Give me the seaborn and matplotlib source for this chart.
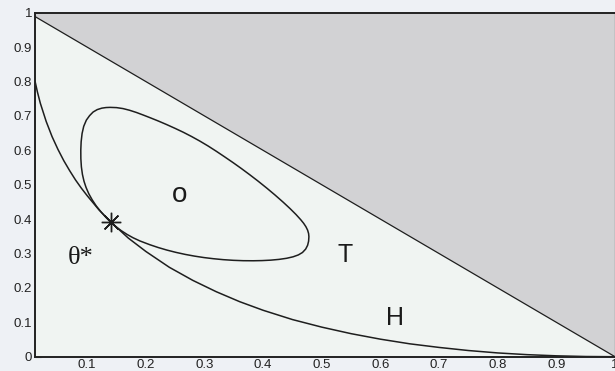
import seaborn as sns
import numpy as np
import pandas as pd
import matplotlib
matplotlib.use("Agg")
import matplotlib.pyplot as plt

# simplex edge x + y = 1 (line T)
edge_x = [0.0, 1.0]
edge_y = [1.0, 0.0]

# curve H
h_x = [0.011, 0.015, 0.02, 0.03, 0.04, 0.05, 0.06, 0.07, 0.08, 0.09, 0.10, 0.12, 0.14,
       0.17, 0.20, 0.24, 0.28, 0.32, 0.36, 0.40, 0.45, 0.50, 0.55, 0.60, 0.65, 0.70,
       0.75, 0.80, 0.85, 0.90, 0.95, 1.00]
h_y = [0.801, 0.770, 0.737, 0.684, 0.640, 0.603, 0.570, 0.541, 0.514, 0.490, 0.468, 0.427, 0.392,
       0.345, 0.306, 0.260, 0.222, 0.189, 0.160, 0.135, 0.108, 0.086, 0.067, 0.051, 0.0375, 0.027,
       0.018, 0.011, 0.006, 0.0026, 0.0006, 0.0]

# closed curve O (starts and ends at theta*)
o_x = [0.1400, 0.1320, 0.1240, 0.1155, 0.1085, 0.1026, 0.0980, 0.0945, 0.0918, 0.0900,
       0.0891, 0.0890, 0.0896, 0.0912, 0.0940, 0.0985, 0.1040, 0.1100, 0.1170, 0.1250,
       0.1320, 0.1390, 0.1500, 0.1610, 0.1720, 0.1840, 0.1960, 0.2070, 0.2210, 0.2350,
       0.2500, 0.2640, 0.2780, 0.2920, 0.3060, 0.3200, 0.3340, 0.3490, 0.3630, 0.3770,
       0.3910, 0.4060, 0.4200, 0.4340, 0.4460, 0.4560, 0.4640, 0.4690, 0.4729, 0.4758,
       0.4775, 0.4780, 0.4775, 0.4758, 0.4725, 0.4670, 0.4600, 0.4510, 0.4400, 0.4270,
       0.4130, 0.3980, 0.3830, 0.3660, 0.3490, 0.3320, 0.3150, 0.2990, 0.2830, 0.2670,
       0.2510, 0.2360, 0.2210, 0.2070, 0.1900, 0.1780, 0.1680, 0.1580, 0.1490, 0.1400]
o_y = [0.3910, 0.4050, 0.4200, 0.4380, 0.4560, 0.4740, 0.4920, 0.5100, 0.5300, 0.5520,
       0.5760, 0.6010, 0.6250, 0.6490, 0.6700, 0.6880, 0.7010, 0.7115, 0.7185, 0.7228,
       0.7245, 0.7250, 0.7243, 0.7215, 0.7167, 0.7101, 0.7024, 0.6951, 0.6855, 0.6753,
       0.6638, 0.6525, 0.6402, 0.6270, 0.6128, 0.5975, 0.5815, 0.5640, 0.5470, 0.5293,
       0.5110, 0.4905, 0.4705, 0.4495, 0.4305, 0.4135, 0.3985, 0.3880, 0.3780, 0.3680,
       0.3580, 0.3490, 0.3360, 0.3240, 0.3130, 0.3030, 0.2960, 0.2905, 0.2862, 0.2830,
       0.2808, 0.2795, 0.2790, 0.2792, 0.2803, 0.2822, 0.2850, 0.2883, 0.2925, 0.2975,
       0.3035, 0.3100, 0.3175, 0.3255, 0.3365, 0.3460, 0.3555, 0.3665, 0.3780, 0.3910]

theta_x = [0.140]
theta_y = [0.391]

x_ticks = [0.1, 0.2, 0.3, 0.4, 0.5, 0.6, 0.7, 0.8, 0.9, 1.0]
x_labels = ['0.1', '0.2', '0.3', '0.4', '0.5', '0.6', '0.7', '0.8', '0.9', '1']
y_ticks = [0.0, 0.1, 0.2, 0.3, 0.4, 0.5, 0.6, 0.7, 0.8, 0.9, 1.0]
y_labels = ['0', '0.1', '0.2', '0.3', '0.4', '0.5', '0.6', '0.7', '0.8', '0.9', '1']

sns.set_theme(style="ticks")
plt.rcParams['font.family'] = ['Liberation Sans', 'DejaVu Sans']

fig = plt.figure(figsize=(6.15, 3.71), dpi=100, facecolor='#eef1f5')
ax = fig.add_axes([0.057, 0.0385, 0.943, 0.927])
ax.set_facecolor('#f0f4f2')

ax.fill_between(edge_x, edge_y, 1, color='#d2d2d4', linewidth=0)
ax.fill_between(edge_x, 0, edge_y, color='#f0f4f2', linewidth=0)

line_c = '#1e1e1e'
sns.lineplot(x=edge_x, y=edge_y, ax=ax, color=line_c, linewidth=0.9)
sns.lineplot(x=h_x, y=h_y, ax=ax, color=line_c, linewidth=1.1, sort=False, estimator=None)
sns.lineplot(x=o_x, y=o_y, ax=ax, color=line_c, linewidth=1.1, sort=False, estimator=None)
ax.plot(theta_x, theta_y, linestyle='none', marker=(8, 2, 0), markersize=14,
        markeredgewidth=1.0, color=line_c)

ax.text(0.258, 0.47, 'o', fontsize=20, ha='center', va='center', color='#1a1a1a')
ax.text(0.539, 0.296, 'T', fontsize=18, ha='center', va='center', color='#1a1a1a')
ax.text(0.624, 0.112, 'H', fontsize=18, ha='center', va='center', color='#1a1a1a')
ax.text(0.088, 0.287, 'θ*', fontsize=19, ha='center', va='center', color='#1a1a1a',
        family=['Liberation Serif', 'DejaVu Serif'])

ax.set_xlim(0.011, 1.0)
ax.set_ylim(0, 1)
ax.set_xticks(x_ticks)
ax.set_xticklabels(x_labels)
ax.set_yticks(y_ticks)
ax.set_yticklabels(y_labels)
ax.tick_params(direction='in', length=4, width=0.8, color='#555555',
               labelsize=9.5, labelcolor='#222222', pad=2)
for s in ['left', 'bottom', 'top']:
    ax.spines[s].set_color('#222222')
    ax.spines[s].set_linewidth(1.4)
ax.spines['right'].set_color('#888888')
ax.spines['right'].set_linewidth(1.0)
ax.set_xlabel('')
ax.set_ylabel('')

fig.savefig('out.png', dpi=100, facecolor=fig.get_facecolor())
